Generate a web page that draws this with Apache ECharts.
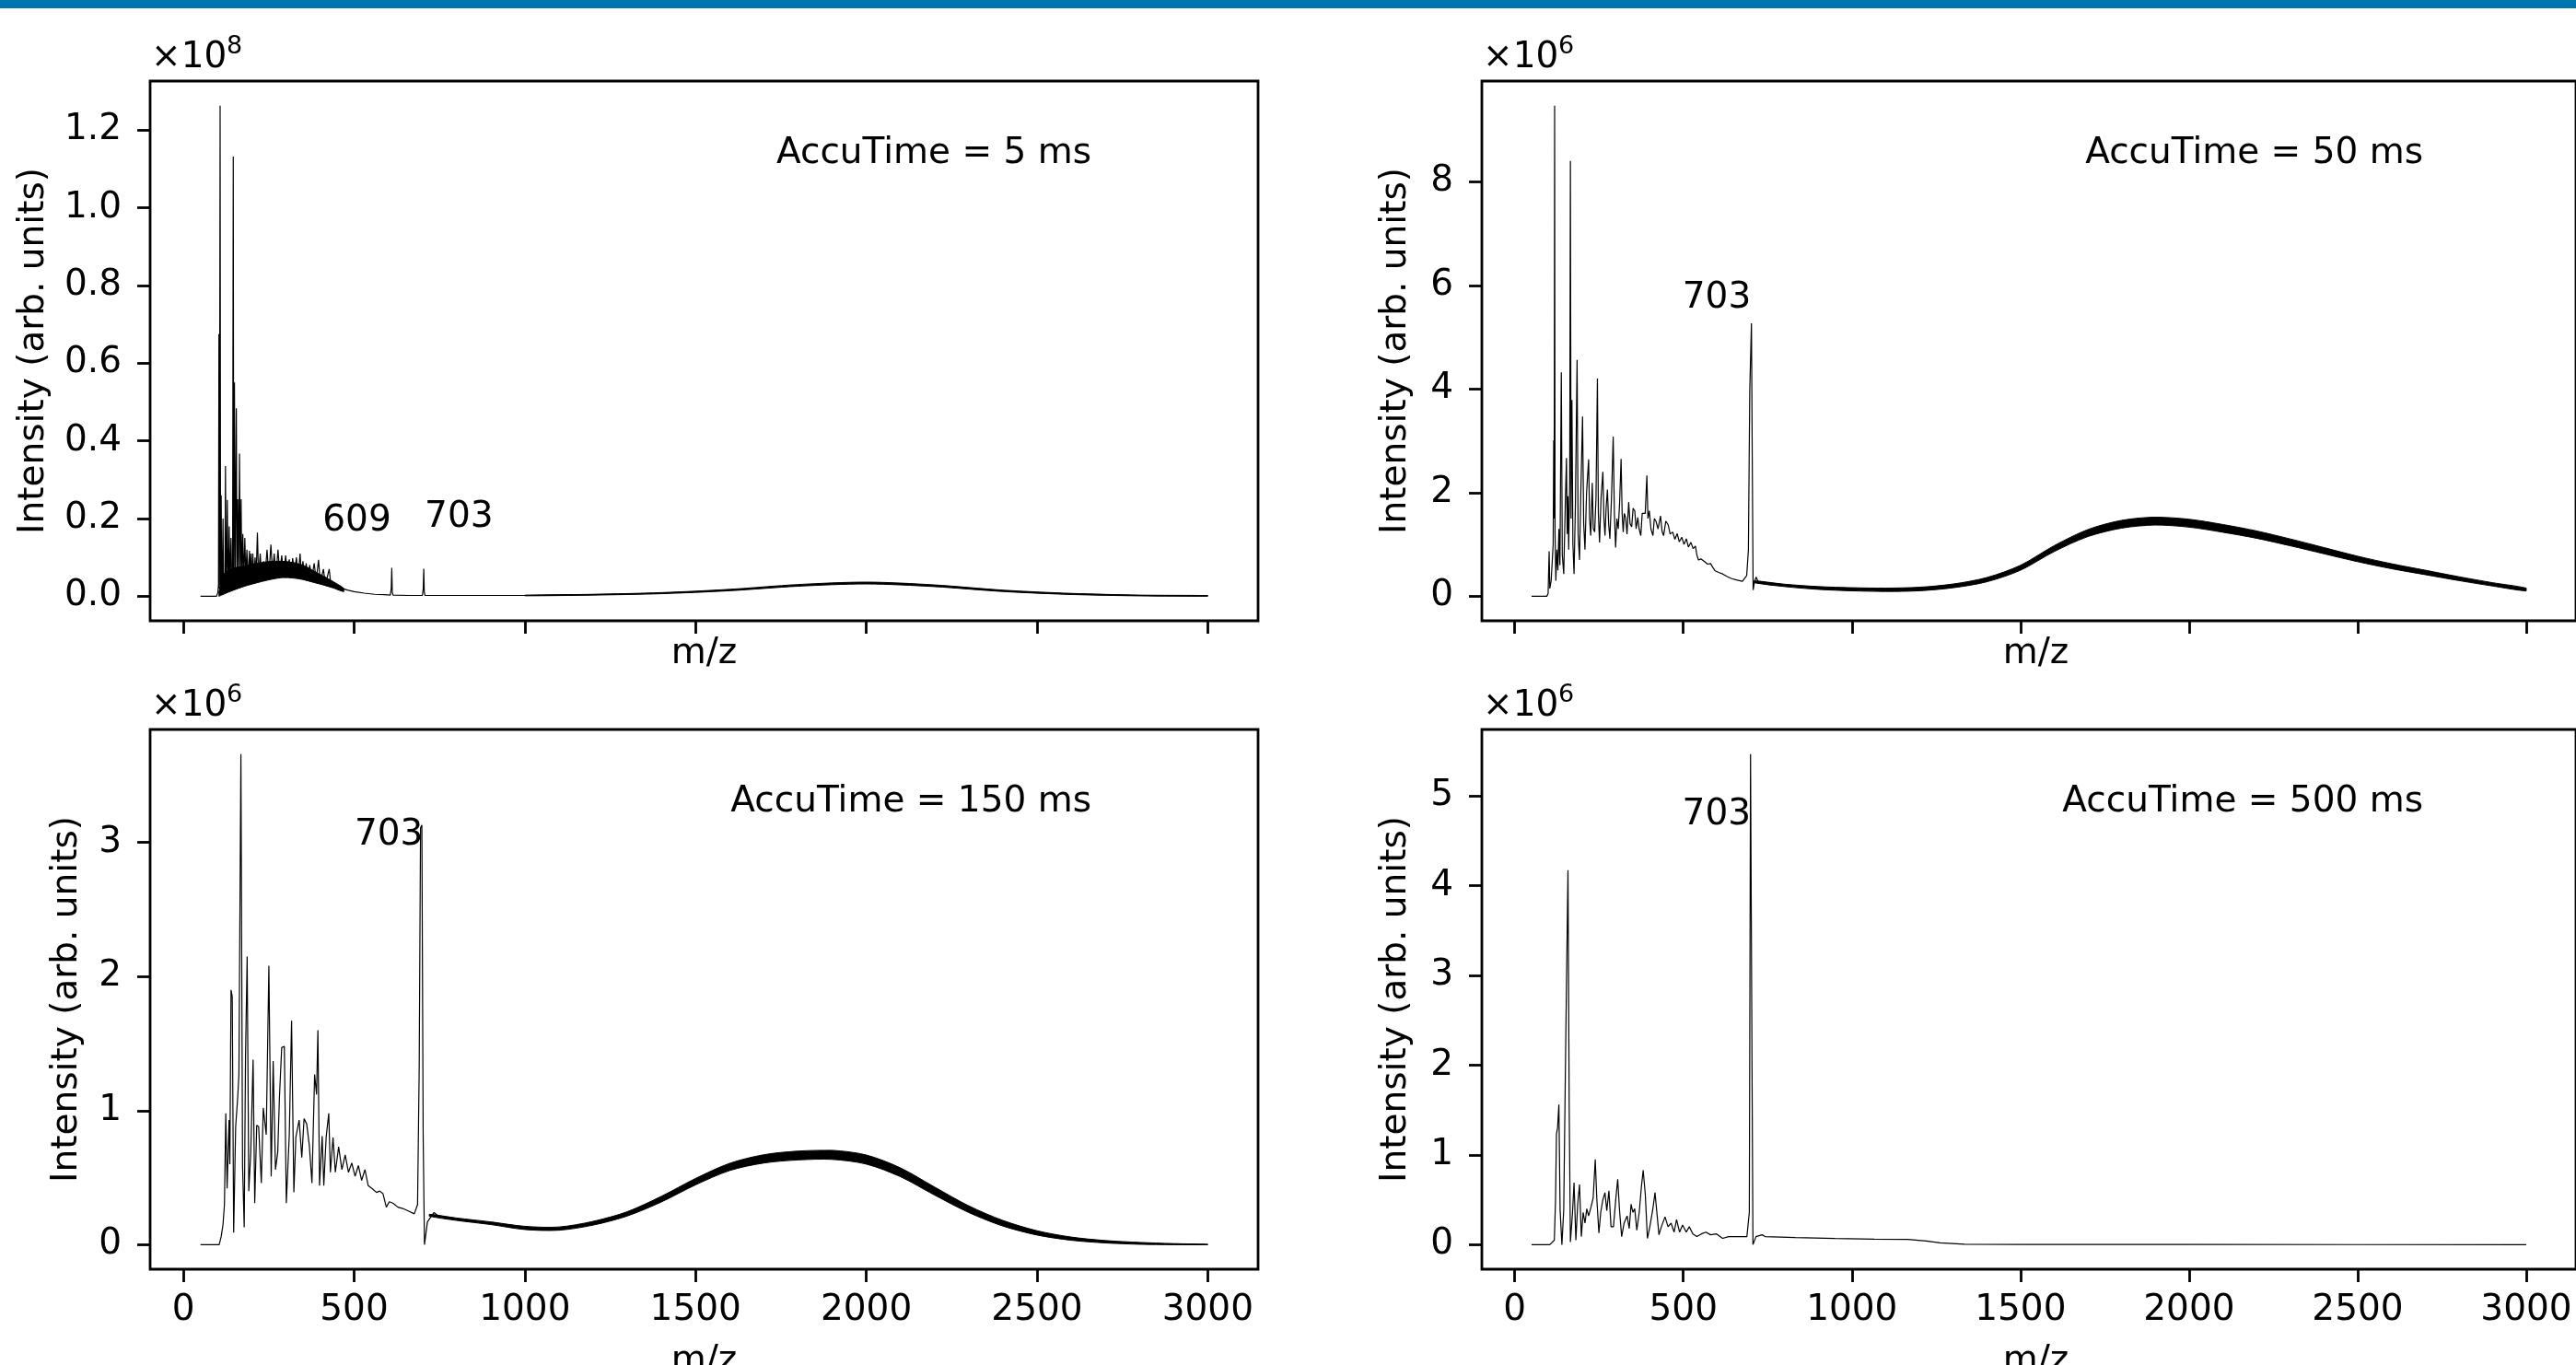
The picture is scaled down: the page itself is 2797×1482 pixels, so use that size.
<!DOCTYPE html>
<html>
<head>
<meta charset="utf-8">
<script src="https://cdn.jsdelivr.net/npm/echarts@6/dist/echarts.min.js"></script>
<style>
html,body{margin:0;padding:0;background:#fff;overflow:hidden}
#c{width:2797px;height:1482px}
</style>
</head>
<body>
<div id="c"></div>
<script>
// ---------------- DATA ----------------
// intensities are in the units shown on each y axis (x10^8 for 5 ms, x10^6 for the others)
const accuLabels = ['AccuTime = 5 ms', 'AccuTime = 50 ms', 'AccuTime = 150 ms', 'AccuTime = 500 ms'];
const exponents = ['8', '6', '6', '6'];
const mzTicks = [0, 500, 1000, 1500, 2000, 2500, 3000];
const yTicks5 = [0, 0.2, 0.4, 0.6, 0.8, 1.0, 1.2];
const yTicks50 = [0, 2, 4, 6, 8];
const yTicks150 = [0, 1, 2, 3];
const yTicks500 = [0, 1, 2, 3, 4, 5];

// peak labels: [text, m/z of label centre, intensity of label centre]
const notes5 = [['609', 508, 0.2006], ['703', 807, 0.210]];
const notes50 = [['703', 599, 5.81]];
const notes150 = [['703', 601.6, 3.08]];
const notes500 = [['703', 598.6, 4.82]];

// spectra: [m/z, intensity]
const spectrum5ms = [
[50,0],[97,0],[101,0.01],[102.8,0.03],[104,0.675],[105.3,0.02],[107.5,1.263],[108.8,0.03],[110.6,0.26],[112.2,0.02],[114,0.05],[116,0.2],[117.5,0.03],[120,0.06],[121.5,0.02],[123.2,0.335],[124.8,0.03],[126.5,0.07],[128.6,0.248],[130.5,0.02],[132,0.06],[134,0.18],[136,0.03],[139.4,0.15],[141.5,0.03],[144,0.05],[146,1.132],[147.4,0.05],[149.5,0.55],[151.5,0.04],[155,0.484],[156.8,0.03],[159.2,0.25],[161.5,0.04],[164.3,0.367],[166.5,0.04],[169,0.25],[171,0.04],[174,0.16],[176.5,0.04],[179.9,0.15],[182.5,0.05],[186,0.12],[189.5,0.04],[193.3,0.117],[195.5,0.05],[198,0.11],[200.5,0.04],[203.2,0.11],[206.5,0.05],[210,0.1],[213,0.05],[216.7,0.164],[220,0.05],[225,0.11],[229,0.05],[234.7,0.09],[239,0.05],[245,0.12],[250,0.05],[256.3,0.133],[261,0.06],[266,0.11],[271,0.05],[277,0.12],[282,0.06],[288,0.105],[293,0.05],[299.5,0.105],[304,0.06],[310,0.095],[315,0.05],[320,0.098],[325,0.06],[331,0.1],[336,0.05],[341.7,0.11],[346,0.05],[350,0.09],[355,0.05],[359.7,0.085],[364,0.045],[370,0.08],[376,0.045],[383,0.085],[389,0.04],[395.7,0.094],[401,0.035],[410,0.07],[416,0.03],[427,0.07],[432,0.028],[445,0.03],[460,0.022],[480,0.016],[500,0.012],[530,0.008],[560,0.005],[590,0.004],[606,0.003],[608.7,0.02],[610.3,0.073],[611.8,0.01],[614,0.003],[660,0.002],[700,0.002],[702.5,0.02],[704,0.071],[705.5,0.01],[708,0.002],[800,0.002],[900,0.002],[1000,0.002],[1100,0.003],[1200,0.004],[1300,0.006],[1400,0.008],[1500,0.011],[1600,0.016],[1700,0.022],[1800,0.028],[1900,0.032],[2000,0.034],[2100,0.032],[2200,0.027],[2300,0.02],[2400,0.014],[2500,0.009],[2600,0.006],[2700,0.004],[2800,0.002],[2900,0.0015],[3000,0.001]
];
const spectrum50ms = [
[50,0],[95,0],[99,0.05],[102,0.87],[104,0.15],[108,0.3],[111,0.29],[114,1.0],[115.6,3.01],[117,1.5],[118.3,9.47],[119.6,1.2],[121.9,0.3],[125,0.9],[128,0.5],[131,1.3],[134,0.6],[138.1,4.32],[141,0.8],[145.3,0.43],[150,1.8],[153.4,2.67],[155.5,1.2],[157.9,1.93],[160,0.9],[163,2.2],[165.1,8.40],[167,1.5],[169.6,3.79],[172.5,1.0],[175.9,0.43],[180,1.8],[184.9,4.56],[188,1.2],[192.1,0.70],[196,2.0],[201.1,3.47],[204.5,1.4],[208.3,0.90],[213,2.0],[219.1,2.64],[222,1.5],[225.4,1.17],[229.9,2.19],[233,1.3],[237.1,1.24],[241,1.9],[245.2,4.20],[248,1.6],[251.5,1.04],[256,1.9],[261.4,2.40],[264.5,1.5],[267.7,1.17],[271,1.7],[274.9,2.06],[278.5,1.4],[282.1,1.11],[287,1.9],[292,3.08],[295.5,1.6],[299.2,0.94],[303,1.5],[307,1.3],[311,1.8],[315.4,2.65],[318.5,1.6],[321.7,1.24],[325,1.6],[328.9,1.52],[333,1.2],[337.9,1.82],[342,1.4],[346.9,1.34],[351,1.7],[355.9,1.65],[360,1.3],[364.9,1.52],[369,1.3],[373.9,1.17],[378,1.6],[382.9,1.59],[387,1.6],[391.9,2.33],[395,1.5],[399.1,1.65],[404,1.3],[409.9,1.17],[414,1.5],[418.9,1.45],[425,1.3],[432.4,1.55],[437,1.25],[441.4,1.17],[448,1.45],[454.9,1.38],[461,1.2],[468.4,1.24],[475,1.1],[481.9,1.21],[488,1.05],[495.4,1.14],[502,1.0],[508.9,1.11],[515,0.95],[522.4,1.04],[529,0.92],[535.9,0.97],[540,0.8],[544.9,0.7],[552,0.72],[562.9,0.67],[572,0.62],[580.9,0.63],[588,0.55],[594.4,0.49],[605,0.46],[616.9,0.43],[630,0.38],[643.9,0.34],[660,0.31],[675.4,0.29],[688,0.40],[693,0.9],[697,3.96],[702,5.27],[704.5,2.6],[707,0.12],[711,0.28],[716,0.37],[721,0.29],[760,0.25],[800,0.21],[900,0.16],[1000,0.135],[1100,0.125],[1200,0.14],[1300,0.2],[1400,0.32],[1500,0.55],[1600,0.92],[1700,1.22],[1800,1.39],[1900,1.45],[2000,1.41],[2100,1.31],[2200,1.19],[2300,1.04],[2400,0.88],[2500,0.72],[2600,0.58],[2700,0.46],[2800,0.34],[2900,0.23],[3000,0.13]
];
const spectrum150ms = [
[50,0],[104.8,0],[110.6,0.06],[116,0.15],[120.2,0.30],[124.1,0.98],[128,0.42],[133.7,0.93],[136,0.6],[139.5,1.90],[143,1.85],[147.2,0.09],[153,0.88],[158.8,1.09],[162.6,1.27],[168.4,3.66],[173.2,0.59],[178.1,0.13],[181.9,1.40],[186.7,2.15],[191.5,0.40],[197.3,0.69],[204.1,1.38],[208.9,0.31],[214.7,0.89],[220.4,0.88],[228.2,0.46],[233.9,1.02],[242.6,0.82],[250.3,2.08],[257.1,0.51],[262.9,1.37],[269.6,0.56],[276.3,0.69],[281.1,1.09],[287.9,1.47],[295.6,1.48],[301.4,0.31],[310.1,0.82],[316.8,1.67],[323.5,0.39],[329.3,0.80],[339,0.93],[346.7,0.65],[353.4,0.94],[361.1,0.90],[368.8,0.74],[376.5,0.46],[384.3,1.27],[390,1.12],[393.9,1.60],[398.7,0.44],[406.4,0.81],[411.2,0.44],[418,0.8],[425.7,0.98],[430.5,0.54],[438.2,0.80],[445,0.54],[454.6,0.73],[464.2,0.56],[473.8,0.67],[483.5,0.54],[493.1,0.61],[502.8,0.51],[512.4,0.59],[522,0.48],[531.7,0.56],[541.3,0.44],[552,0.42],[565.4,0.39],[575,0.40],[584.6,0.38],[594.3,0.28],[603,0.32],[613.6,0.31],[628,0.28],[642.5,0.27],[660,0.25],[676.2,0.23],[685.8,0.30],[690.6,1.32],[694.5,3.11],[698.4,3.13],[702.2,0.82],[706,0],[714.7,0.17],[734,0.24],[748.5,0.21],[800,0.19],[900,0.16],[1000,0.125],[1100,0.12],[1200,0.16],[1300,0.23],[1400,0.34],[1500,0.47],[1600,0.58],[1700,0.64],[1800,0.665],[1900,0.67],[2000,0.635],[2100,0.54],[2200,0.40],[2300,0.265],[2400,0.16],[2500,0.088],[2600,0.045],[2700,0.022],[2800,0.01],[2900,0.003],[3000,0]
];
const spectrum500ms = [
[50,0],[103.9,0],[117.4,0.05],[121,0.5],[123.7,1.23],[127,1.3],[130.9,1.56],[134.5,0.39],[139.9,0],[145.3,0.39],[151.6,2.37],[157.9,4.17],[161.5,1.54],[165.1,0.03],[171.4,0.36],[175.9,0.69],[181.3,0.05],[186.7,0.45],[192.1,0.67],[197.5,0.09],[202.9,0.36],[208.3,0.24],[213.7,0.40],[219.1,0.32],[226.3,0.42],[232.6,0.52],[238.8,0.95],[243.3,0.52],[249.6,0.13],[255,0.36],[261.3,0.50],[267.6,0.58],[273,0.38],[279.3,0.60],[285.6,0.20],[292.8,0.20],[300,0.52],[305.4,0.73],[310.8,0.38],[317.1,0.09],[324.3,0.24],[333.3,0.32],[339.6,0.18],[345,0.45],[350.4,0.36],[355.8,0.40],[362.1,0.16],[369.2,0.36],[375.5,0.64],[380.9,0.83],[387.2,0.56],[393.5,0.07],[400.7,0.20],[409.7,0.40],[416,0.58],[421.4,0.60],[427.7,0.11],[434.9,0.20],[445.7,0.31],[454.7,0.20],[463.7,0.24],[472.7,0.14],[479.9,0.28],[488.8,0.14],[497.8,0.22],[508.6,0.14],[517.6,0.20],[528.4,0.12],[540.1,0.09],[553.6,0.12],[567.1,0.14],[580.6,0.11],[598.6,0.12],[616.5,0.07],[634.5,0.09],[661.5,0.09],[688.5,0.09],[695.7,0.36],[699.3,5.465],[703.8,1.93],[706.5,0],[715.5,0.09],[733.5,0.11],[742.5,0.09],[832.4,0.08],[950,0.07],[1066,0.062],[1166,0.058],[1220,0.04],[1262,0.02],[1334,0.005],[1500,0.003],[2000,0.002],[2500,0.001],[3000,0]
];

// noise bands (lower / upper envelope of densely oscillating regions)
const dense5Mz = [104,112,120,130,145,160,180,200,230,260,290,320,350,380,410,440,470];
const dense5Lo = [0.000,0.003,0.006,0.010,0.015,0.020,0.026,0.031,0.038,0.044,0.048,0.047,0.043,0.036,0.029,0.021,0.012];
const dense5Hi = [0.010,0.040,0.058,0.066,0.072,0.075,0.078,0.082,0.087,0.090,0.090,0.087,0.080,0.066,0.052,0.037,0.020];
const hump5Mz = [1000,1200,1400,1600,1800,2000,2200,2400,2600,2800,3000];
const hump5Lo = [0.0012,0.003,0.0066,0.0142,0.0258,0.0316,0.0248,0.0122,0.0046,0.001,0.0002];
const hump5Hi = [0.0028,0.005,0.0094,0.0178,0.0302,0.0364,0.0292,0.0158,0.0074,0.003,0.0018];
const hump50Mz = [710,800,900,1000,1100,1200,1300,1400,1500,1600,1700,1800,1900,2000,2100,2200,2300,2400,2500,2600,2700,2800,2900,3000];
const hump50Lo = [0.262,0.187,0.133,0.105,0.093,0.106,0.164,0.279,0.502,0.863,1.152,1.315,1.374,1.334,1.235,1.119,0.974,0.820,0.667,0.532,0.417,0.303,0.198,0.103];
const hump50Hi = [0.298,0.233,0.187,0.165,0.157,0.174,0.236,0.361,0.598,0.977,1.288,1.465,1.526,1.486,1.385,1.261,1.106,0.940,0.773,0.628,0.503,0.377,0.262,0.157];
const hump150Mz = [720,800,900,1000,1100,1200,1300,1400,1500,1600,1700,1800,1900,2000,2100,2200,2300,2400,2500,2600,2700,2800,2900,3000];
const hump150Lo = [0.213,0.181,0.150,0.113,0.108,0.146,0.214,0.319,0.446,0.553,0.609,0.632,0.636,0.601,0.507,0.370,0.240,0.139,0.072,0.033,0.013,0.003,0.000,0.000];
const hump150Hi = [0.227,0.199,0.170,0.137,0.132,0.174,0.246,0.361,0.494,0.607,0.671,0.698,0.704,0.669,0.573,0.430,0.290,0.181,0.104,0.057,0.031,0.017,0.008,0.003];

// ---------------- CHART ----------------
const panels = [
  {spec: spectrum5ms, bands: [[dense5Mz, dense5Lo, dense5Hi], [hump5Mz, hump5Lo, hump5Hi]], yTicks: yTicks5, dec: 1, notes: notes5},
  {spec: spectrum50ms, bands: [[hump50Mz, hump50Lo, hump50Hi]], yTicks: yTicks50, dec: 0, notes: notes50},
  {spec: spectrum150ms, bands: [[hump150Mz, hump150Lo, hump150Hi]], yTicks: yTicks150, dec: 0, notes: notes150},
  {spec: spectrum500ms, bands: [], yTicks: yTicks500, dec: 0, notes: notes500}
];
const GL = [163, 1609, 163, 1609], GT = [88, 88, 792, 792], GW = 1203, GH = 586;
const YLX = [37, 1516, 73, 1516];
const FONT = '"DejaVu Sans"';
const DY = 3.5; // canvas 'middle' correction

// matplotlib-like 5% margins
let xmn = Infinity, xmx = -Infinity;
panels.forEach(p => p.spec.forEach(d => { xmn = Math.min(xmn, d[0]); xmx = Math.max(xmx, d[0]); }));
const xPad = 0.05 * (xmx - xmn);
const xMin = xmn - xPad, xMax = xmx + xPad;

function yRange(p) {
  let mn = Infinity, mx = -Infinity;
  p.spec.forEach(d => { mn = Math.min(mn, d[1]); mx = Math.max(mx, d[1]); });
  p.bands.forEach(b => { b[1].forEach(v => mn = Math.min(mn, v)); b[2].forEach(v => mx = Math.max(mx, v)); });
  const pad = 0.05 * (mx - mn);
  return [mn - pad, mx + pad];
}

const option = {
  animation: false,
  backgroundColor: '#fff',
  grid: panels.map((p, i) => ({left: GL[i], top: GT[i], width: GW, height: GH, show: true,
    borderColor: '#000', borderWidth: 2.8, backgroundColor: 'transparent', containLabel: false})),
  xAxis: panels.map((p, i) => ({
    type: 'value', gridIndex: i, min: xMin, max: xMax, position: 'bottom',
    axisLine: {show: false, onZero: false}, splitLine: {show: false},
    axisTick: {show: true, length: 14, lineStyle: {color: '#000', width: 2.8}, customValues: mzTicks},
    axisLabel: {show: i >= 2, customValues: mzTicks, fontSize: 39, fontFamily: 'DejaVu Sans', color: '#000', margin: 25,
      formatter: v => String(v)}
  })),
  yAxis: panels.map((p, i) => {
    const r = yRange(p);
    return {
      type: 'value', gridIndex: i, min: r[0], max: r[1], position: 'left',
      axisLine: {show: false, onZero: false}, splitLine: {show: false},
      axisTick: {show: true, length: 14, lineStyle: {color: '#000', width: 2.8}, customValues: p.yTicks},
      axisLabel: {show: true, customValues: p.yTicks, fontSize: 39, fontFamily: 'DejaVu Sans', color: '#000', margin: 31,
        padding: [7, 0, 0, 0], formatter: v => Number(v).toFixed(p.dec)}
    };
  }),
  series: []
};

panels.forEach((p, i) => {
  p.bands.forEach(b => {
    const mz = b[0], lo = b[1], hi = b[2];
    option.series.push({
      type: 'custom', xAxisIndex: i, yAxisIndex: i, clip: true, silent: true, z: 2,
      data: mz.map((m, k) => [m, lo[k], hi[k]]),
      encode: {x: 0, y: [1, 2]},
      renderItem: function (params, api) {
        if (params.dataIndex !== 0) return null;
        const pts = [];
        for (let k = 0; k < mz.length; k++) pts.push(api.coord([mz[k], hi[k]]));
        for (let k = mz.length - 1; k >= 0; k--) pts.push(api.coord([mz[k], lo[k]]));
        let x0 = Infinity, y0 = Infinity, x1 = -Infinity, y1 = -Infinity;
        pts.forEach(q => { x0 = Math.min(x0, q[0]); y0 = Math.min(y0, q[1]); x1 = Math.max(x1, q[0]); y1 = Math.max(y1, q[1]); });
        return {type: 'polygon', shape: {points: pts, smooth: 0.3, smoothConstraint: [[x0, y0], [x1, y1]]},
          style: {fill: '#000', stroke: '#000', lineWidth: 1}};
      }
    });
  });
  option.series.push({
    type: 'line', xAxisIndex: i, yAxisIndex: i, data: p.spec, showSymbol: false, symbol: 'none',
    lineStyle: {color: '#000', width: 1.2}, silent: true, clip: true, z: 3
  });
});

const chart = echarts.init(document.getElementById('c'), null, {renderer: 'canvas', width: 2797, height: 1482});
chart.setOption(option);

function txt(text, x, y, size, align, valign, rot) {
  return {type: 'text', x: x, y: y, rotation: rot || 0, silent: true, z: 100,
    style: {text: text, fill: '#000', font: size + 'px ' + FONT,
      align: align, verticalAlign: valign, textAlign: align, textVerticalAlign: valign}};
}

const graphics = [{type: 'rect', shape: {x: 0, y: 0, width: 2797, height: 9}, style: {fill: '#0076B1'}, silent: true, z: 100}];
panels.forEach((p, i) => {
  const L = GL[i], T = GT[i];
  graphics.push(txt('\u00d710', L + 1, T - 28.8 + DY, 39, 'left', 'middle'));
  graphics.push(txt(exponents[i], L + 83, T - 39.4 + 2.5, 27, 'left', 'middle'));
  graphics.push(txt(accuLabels[i], L + 1022, T + 75.7 + DY, 39, 'right', 'middle'));
  graphics.push(txt('m/z', L + GW / 2, T + GH + (i >= 2 ? 99.8 : 36.3), 39, 'center', 'middle'));
  graphics.push(txt('Intensity (arb. units)', YLX[i], T + GH / 2, 39, 'center', 'middle', Math.PI / 2));
  p.notes.forEach(n => {
    const px = chart.convertToPixel({gridIndex: i}, [n[1], n[2]]);
    graphics.push(txt(n[0], px[0], px[1] + DY, 39, 'center', 'middle'));
  });
});
chart.setOption({graphic: graphics});
</script>
</body>
</html>
